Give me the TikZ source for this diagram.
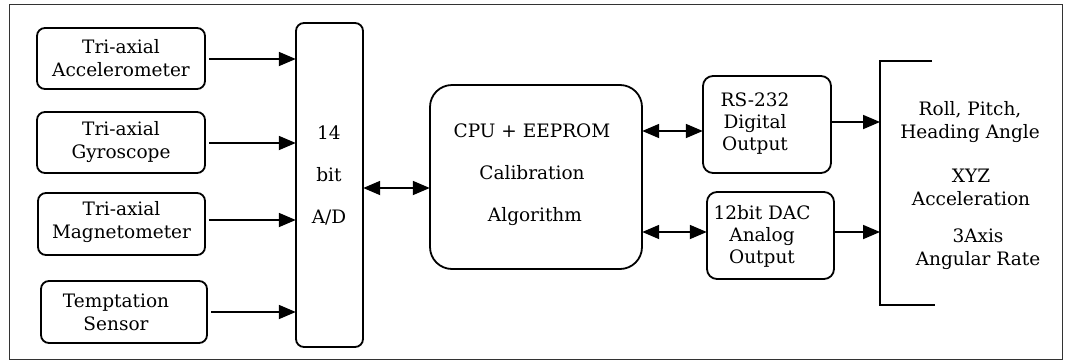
\documentclass[tikz,border=0pt]{standalone}
\usepackage{fontspec}
\setmainfont{DejaVu Serif}
\usetikzlibrary{arrows.meta}
\begin{document}
\begin{tikzpicture}[x=1pt,y=-1pt,
  blk/.style={draw, line width=1.8pt, rounded corners=8pt, inner sep=0pt},
  lbl/.style={align=center, font=\fontsize{18.5}{23}\selectfont, inner sep=0pt},
  arr/.style={line width=1.8pt, -{Triangle[length=17pt,width=14pt]}},
  darr/.style={line width=1.8pt, {Triangle[length=17pt,width=14pt]}-{Triangle[length=17pt,width=14pt]}}]
\useasboundingbox (0,0) rectangle (1066,362);
% outer frame
\draw[line width=1pt, black!80] (9,4) rectangle (1062,359);

% sensor blocks
\draw[blk] (37,28) rectangle (205,89);
\node[minimum width=168pt, minimum height=61pt, inner sep=0pt] (acc) at (121,58.5) {};
\node[lbl] at (acc) {Tri-axial\\Accelerometer};
\draw[blk] (37,112) rectangle (205,173);
\node[minimum width=168pt, minimum height=61pt, inner sep=0pt] (gyr) at (121,142.5) {};
\node[lbl] at (gyr) {Tri-axial\\Gyroscope};
\draw[blk] (38,193) rectangle (205,255);
\node[minimum width=167pt, minimum height=62pt, inner sep=0pt] (mag) at (121.5,222) {};
\node[lbl] at (mag) {Tri-axial\\Magnetometer};
\draw[blk] (41,281) rectangle (207,343);
\node[minimum width=166pt, minimum height=62pt, inner sep=0pt] (tmp) at (124,312) {};
\node[lbl] at ([xshift=-8pt]tmp) {Temptation\\Sensor};

% A/D converter
\draw[blk] (296,23) rectangle (363,347);
\node[minimum width=67pt, minimum height=324pt, inner sep=0pt] (ad) at (329.5,185) {};
\node[lbl, font=\fontsize{18.5}{42}\selectfont] at (329,175) {14\\bit\\A/D};

% processor
\draw[blk, rounded corners=22pt] (430,85) rectangle (642,269);
\node[minimum width=212pt, minimum height=184pt, inner sep=0pt] (cpu) at (536,177) {};
\node[lbl, font=\fontsize{18.5}{42}\selectfont] at (532,175) {CPU + EEPROM\\Calibration\\\ Algorithm};

% output interfaces
\draw[blk, rounded corners=10pt] (703,76) rectangle (831,173);
\node[minimum width=128pt, minimum height=97pt, inner sep=0pt] (rs) at (767,124.5) {};
\node[lbl, font=\fontsize{18.5}{22}\selectfont] at (755,124) {RS-232\\Digital\\Output};
\draw[blk, rounded corners=10pt] (707,192) rectangle (834,279);
\node[minimum width=127pt, minimum height=87pt, inner sep=0pt] (dac) at (770.5,235.5) {};
\node[lbl, font=\fontsize{18.5}{22}\selectfont] at (762,236) {12bit DAC\\Analog\\Output};

% output bracket
\coordinate (bt) at (880,61);
\coordinate (bb) at (880,305);
\draw[line width=1.5pt] (932,61) -- (bt) -- (bb) -- (935,305);
\node[lbl] (o1) at (970,122) {Roll, Pitch,\\Heading Angle};
\node[lbl] (o2) at (971,187) {XYZ\\Acceleration};
\node[lbl] (o3) at (978,249) {3Axis\\Angular Rate};

% connectors
\draw[arr] ([xshift=4pt]acc.east |- 0,59) -- (ad.west |- 0,59);
\draw[arr] ([xshift=4pt]gyr.east |- 0,143) -- (ad.west |- 0,143);
\draw[arr] ([xshift=4pt]mag.east |- 0,220) -- (ad.west |- 0,220);
\draw[arr] ([xshift=4pt]tmp.east |- 0,312) -- (ad.west |- 0,312);
\coordinate (y1) at (0,188);
\draw[darr] (ad.east |- y1) -- (cpu.west |- y1);
\coordinate (y2) at (0,131);
\coordinate (y3) at (0,232);
\draw[darr] (cpu.east |- y2) -- (rs.west |- y2);
\draw[darr] (cpu.east |- y3) -- (dac.west |- y3);
\coordinate (y4) at (0,122);
\draw[arr] (rs.east |- y4) -- (bt |- y4);
\draw[arr] (dac.east |- y3) -- (bt |- y3);
\end{tikzpicture}
\end{document}
